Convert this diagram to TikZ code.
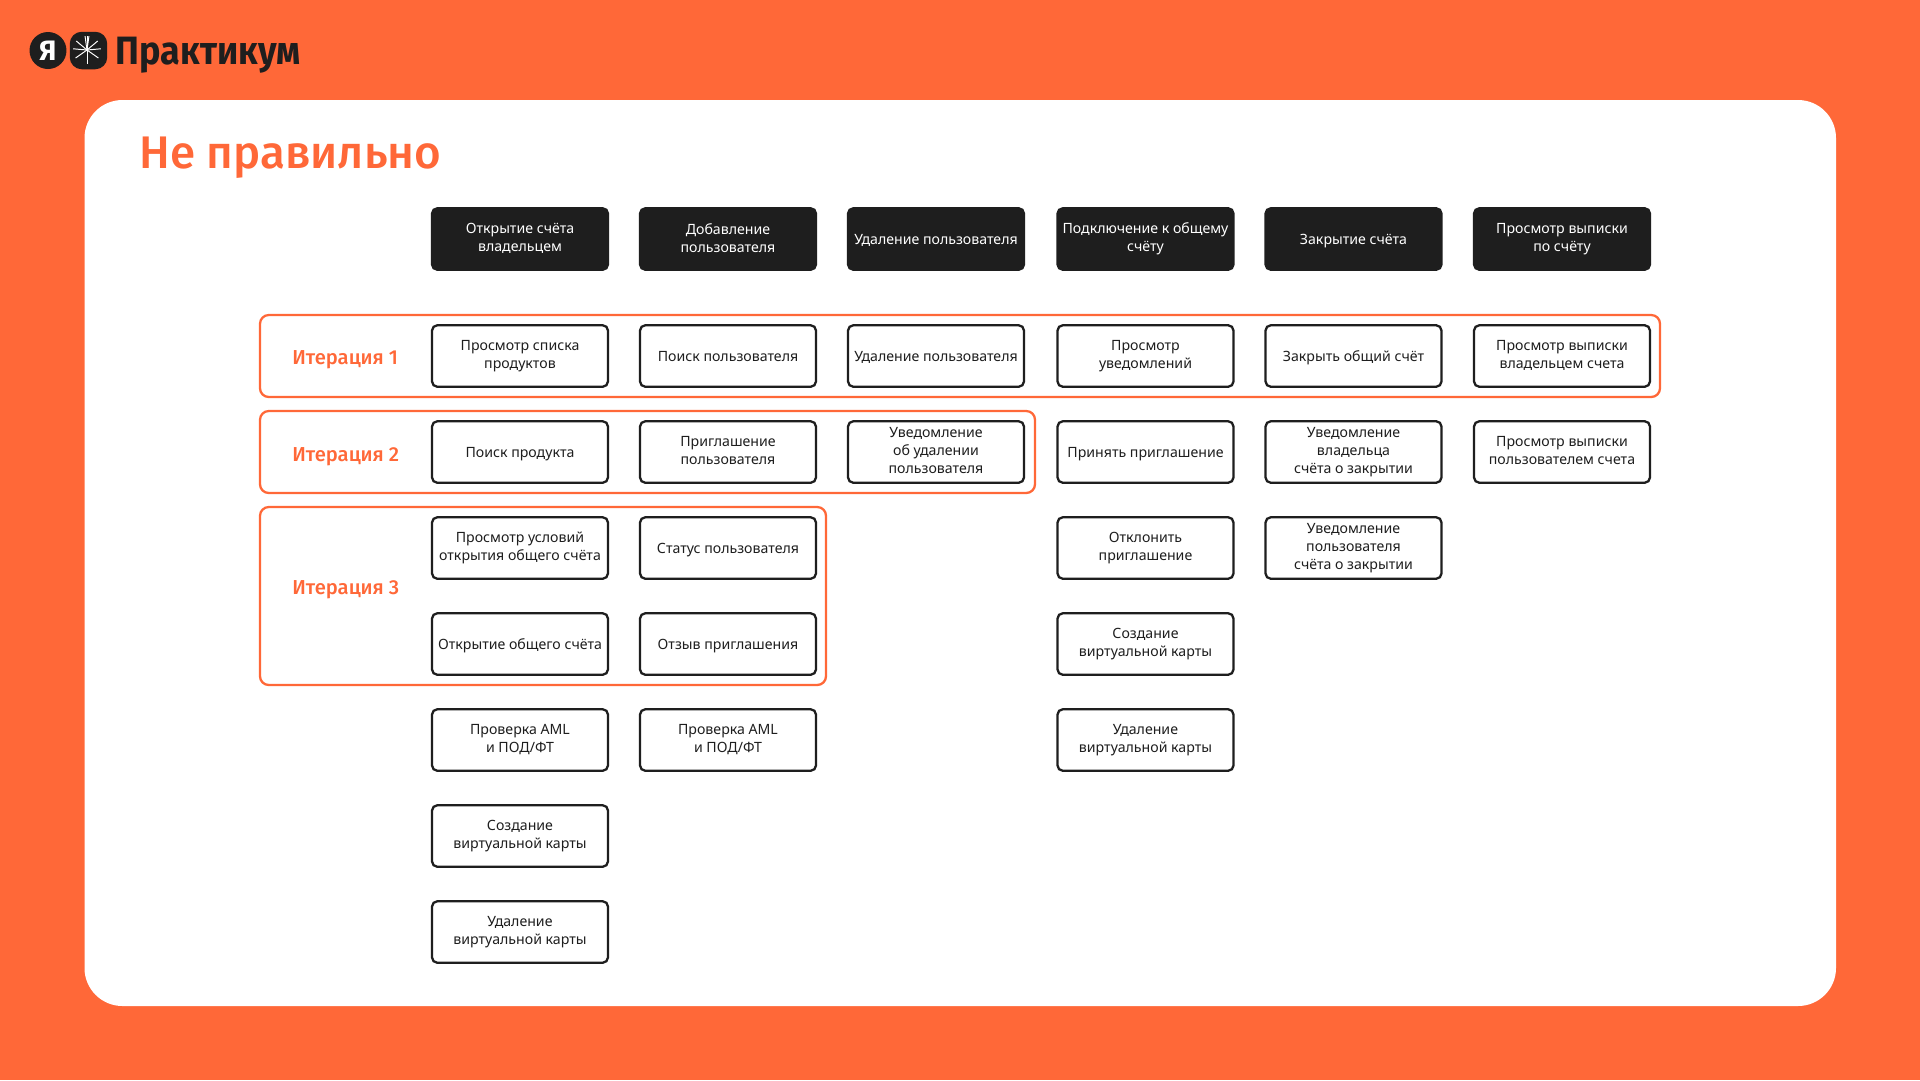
\documentclass[tikz,border=0pt]{standalone}
\usepackage{fontspec}
\setmainfont{Noto Sans}
\newfontfamily\headfont{Fira Sans Medium}
\newfontfamily\logofont{Fira Sans}[UprightFont=*,BoldFont=* Bold]
\usepackage{tikz}
\definecolor{brandorange}{HTML}{FF6838}
\definecolor{brandblack}{HTML}{1E1E1E}
\tikzset{
  stepbox/.style={draw=brandblack, line width=1.3pt, rounded corners=3pt, align=center,
    minimum width=3.52cm, minimum height=1.23cm, inner sep=0pt, text=brandblack,
    font=\fontsize{8.05}{10.2}\selectfont,
    execute at begin node={\rule{0pt}{0.98em}},
    execute at end node={\rule[-0.2em]{0pt}{0.2em}}},
  headbox/.style={stepbox, fill=brandblack, text=white},
  iterframe/.style={draw=brandorange, line width=1.3pt, rounded corners=5pt},
  iterlabel/.style={anchor=west, inner sep=0pt, text=brandorange, font=\fontsize{11.5}{14}\headfont}
}

\begin{document}
\begin{tikzpicture}[x=0.02cm, y=-0.02cm]
    \useasboundingbox (0,0) rectangle (1920,1080);
    % background and panel
    \fill[brandorange] (0,0) rectangle (1920,1080);
    \fill[white, rounded corners=0.76cm] (84.5,100) rectangle (1836,1006);

    % logo
    \node[circle, fill=brandblack, minimum size=0.74cm, inner sep=0pt, text=white, font=\fontsize{16}{16}\logofont\bfseries] (logoya) at (48,50.5) {Я};
    \node[fill=brandblack, rounded corners=0.24cm, minimum size=0.75cm, inner sep=0pt] (logostar) at (88.5,50.5) {};
    \coordinate (logohub) at (87,50);
    \foreach \ang in {90,35,-5,-40,-140,-175,145,-98,-90,-82}
      \draw[white, line width=0.55pt] (logohub) -- ++(\ang:14);
    \node[anchor=base west, inner sep=0pt, text=brandblack, xscale=0.91, transform shape, font=\fontsize{22.5}{22}\logofont\bfseries] (logotext) at (115.5,64) {Практикум};

    % title
    \node[anchor=base west, inner sep=0pt, text=brandorange, font=\fontsize{26}{26}\headfont] (title) at (139,168) {Не правильно};

    % iteration frames
    \draw[iterframe] (260,315) rectangle (1660,397);
    \draw[iterframe] (260,411) rectangle (1035,493);
    \draw[iterframe] (260,507) rectangle (826,685);
    \node[iterlabel] (iterone)   at (292,359.5) {Итерация 1};
    \node[iterlabel] (itertwo)   at (292,456.5) {Итерация 2};
    \node[iterlabel] (iterthree) at (292,589.5) {Итерация 3};

    % header row
    \node[headbox] (headopen)   at ( 520,239) {Открытие счёта\\владельцем};
    \node[headbox] (headadd)    at ( 728,239) {Добавление\\пользователя};
    \node[headbox] (headdel)    at ( 936,239) {Удаление пользователя};
    \node[headbox] (headjoin)   at (1145.5,239) {Подключение к общему\\счёту};
    \node[headbox] (headclose)  at (1353.5,239) {Закрытие счёта};
    \node[headbox] (headreport) at (1562,239) {Просмотр выписки\\по счёту};

    % first column
    \node[stepbox] (openlist)   at (520,356) {Просмотр списка\\продуктов};
    \node[stepbox] (opensearch) at (520,452) {Поиск продукта};
    \node[stepbox] (openterms)  at (520,548) {Просмотр условий\\открытия общего счёта};
    \node[stepbox] (openacc)    at (520,644) {Открытие общего счёта};
    \node[stepbox] (openaml)    at (520,740) {Проверка AML\\и ПОД/ФТ};
    \node[stepbox] (opencard)   at (520,836) {Создание\\виртуальной карты};
    \node[stepbox] (opendrop)   at (520,932) {Удаление\\виртуальной карты};

    % second column
    \node[stepbox] (addsearch) at (728,356) {Поиск пользователя};
    \node[stepbox] (addinvite) at (728,452) {Приглашение\\пользователя};
    \node[stepbox] (addstatus) at (728,548) {Статус пользователя};
    \node[stepbox] (addrevoke) at (728,644) {Отзыв приглашения};
    \node[stepbox] (addaml)    at (728,740) {Проверка AML\\и ПОД/ФТ};

    % third column
    \node[stepbox] (delstep)   at (936,356) {Удаление пользователя};
    \node[stepbox] (delnotify) at (936,452) {Уведомление\\об удалении\\пользователя};

    % fourth column
    \node[stepbox] (joinnotes)   at (1145.5,356) {Просмотр\\уведомлений};
    \node[stepbox] (joinaccept)  at (1145.5,452) {Принять приглашение};
    \node[stepbox] (joindecline) at (1145.5,548) {Отклонить\\приглашение};
    \node[stepbox] (joincard)    at (1145.5,644) {Создание\\виртуальной карты};
    \node[stepbox] (joindrop)    at (1145.5,740) {Удаление\\виртуальной карты};

    % fifth column
    \node[stepbox] (closeacc)   at (1353.5,356) {Закрыть общий счёт};
    \node[stepbox] (closeowner) at (1353.5,452) {Уведомление\\владельца\\счёта о закрытии};
    \node[stepbox] (closeuser)  at (1353.5,548) {Уведомление\\пользователя\\счёта о закрытии};

    % sixth column
    \node[stepbox] (reportowner) at (1562,356) {Просмотр выписки\\владельцем счета};
    \node[stepbox] (reportuser)  at (1562,452) {Просмотр выписки\\пользователем счета};
  \end{tikzpicture}
\end{document}
